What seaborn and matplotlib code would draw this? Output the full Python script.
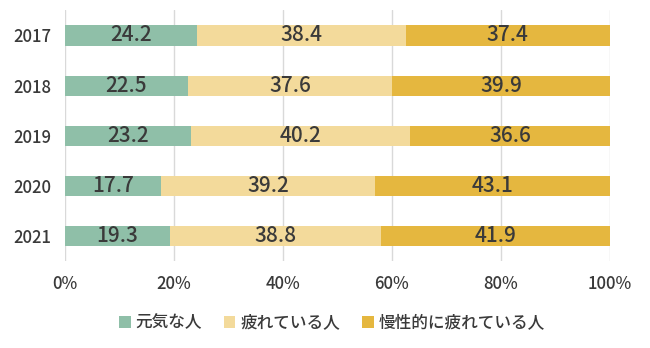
import matplotlib
matplotlib.use("Agg")
import matplotlib.pyplot as plt
import seaborn as sns
import pandas as pd

years = ["2017", "2018", "2019", "2020", "2021"]
genki = [24.2, 22.5, 23.2, 17.7, 19.3]
tsukare = [38.4, 37.6, 40.2, 39.2, 38.8]
mansei = [37.4, 39.9, 36.6, 43.1, 41.9]
series_names = ["元気な人", "疲れている人", "慢性的に疲れている人"]
colors = ["#8fbfa8", "#f3da9b", "#e5b73f"]
x_ticks = [0, 20, 40, 60, 80, 100]
x_tick_labels = ["0%", "20%", "40%", "60%", "80%", "100%"]

sns.set_theme(style="white")
plt.rcParams["font.family"] = ["Noto Sans CJK JP", "DejaVu Sans"]
text_color = "#3a3a3a"

df = pd.DataFrame({"year": years, series_names[0]: genki,
                   series_names[1]: tsukare, series_names[2]: mansei})

fig, ax = plt.subplots(figsize=(6.5, 3.48), dpi=100)
fig.subplots_adjust(left=0.1, right=0.938, top=0.97, bottom=0.25)

left = [0.0] * len(years)
for name, col in zip(series_names, colors):
    vals = df[name].tolist()
    sns.barplot(x=vals, y=df["year"], left=left, color=col, width=0.4,
                saturation=1, linewidth=0, orient="h", ax=ax, label=name,
                zorder=3)
    for i, v in enumerate(vals):
        ax.text(left[i] + v / 2, i, f"{v:.1f}", ha="center", va="center",
                fontsize=15, fontweight="medium", color=text_color, zorder=4)
    left = [l + v for l, v in zip(left, vals)]

ax.set_xlim(0, 100)
ax.set_ylim(4.5, -0.5)
ax.set_xticks(x_ticks)
ax.set_xticklabels(x_tick_labels)
ax.xaxis.grid(True, color="#d9d9d9", linewidth=1, zorder=0)
ax.set_axisbelow(True)
ax.set_xlabel("")
ax.set_ylabel("")
for s in ax.spines.values():
    s.set_visible(False)
ax.tick_params(axis="both", length=0, labelsize=12, colors=text_color)
ax.tick_params(axis="x", pad=10)
ax.tick_params(axis="y", pad=10)
for lab in ax.get_xticklabels() + ax.get_yticklabels():
    lab.set_fontweight("medium")

handles, labels = ax.get_legend_handles_labels()
leg = ax.legend(handles, labels, loc="upper center", bbox_to_anchor=(0.49, -0.15),
                ncol=3, frameon=False, fontsize=12, handlelength=0.7,
                handleheight=0.7, handletextpad=0.3, columnspacing=1.3,
                labelcolor=text_color)
for t in leg.get_texts():
    t.set_fontweight("medium")

fig.savefig("out.png", dpi=100)
